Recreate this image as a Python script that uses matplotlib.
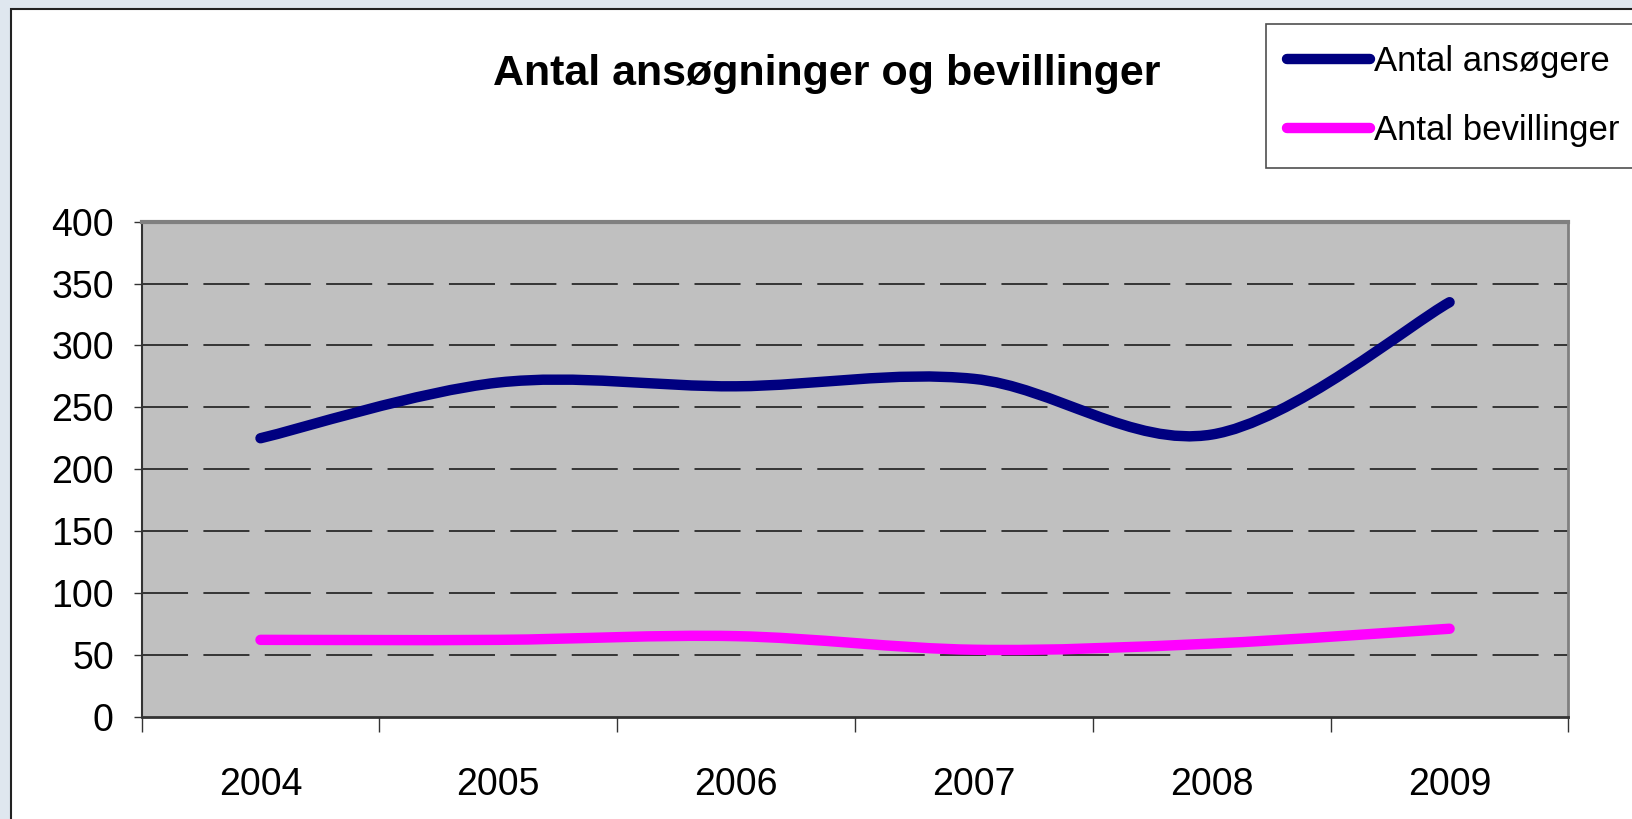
import numpy as np
import matplotlib.pyplot as plt
from matplotlib.path import Path
from matplotlib.patches import PathPatch, Rectangle
from matplotlib.lines import Line2D

years = ['2004', '2005', '2006', '2007', '2008', '2009']
ansogere = [225, 270, 267, 273, 228, 335]
bevillinger = [62, 62, 65, 54, 59, 71]

plt.rcParams['font.family'] = ['Liberation Sans', 'DejaVu Sans']


def smooth_path(xs, ys):
    # Excel-style smoothed line: cubic bezier through every point
    p = np.column_stack([xs, ys]).astype(float)
    n = len(p)
    verts = [p[0]]
    codes = [Path.MOVETO]
    for i in range(n - 1):
        prev = p[max(i - 1, 0)]
        nxt = p[min(i + 2, n - 1)]
        c1 = p[i] + (p[i + 1] - prev) / 6
        c2 = p[i + 1] - (nxt - p[i]) / 6
        verts += [c1, c2, p[i + 1]]
        codes += [Path.CURVE4] * 3
    return Path(verts, codes)


fig = plt.figure(figsize=(16.33, 8.19), dpi=100)
fig.patch.set_facecolor('#dfe7ef')
fig.patches.append(Rectangle((11 / 1633, -0.1), 1.2, 1 - 9 / 819 + 0.1,
                             transform=fig.transFigure, facecolor='white',
                             edgecolor='#222222', linewidth=1.5, zorder=0))

ax = fig.add_axes([0.0867, 0.1251, 0.9605 - 0.0867, 0.7292 - 0.1251])
ax.set_zorder(2)
ax.set_facecolor('#c0c0c0')

x = np.arange(len(years))
for vals, col in [(ansogere, '#000080'), (bevillinger, '#ff00ff')]:
    ax.add_patch(PathPatch(smooth_path(x, vals), facecolor='none', edgecolor=col,
                           linewidth=7.5, capstyle='round', joinstyle='round', zorder=3))

ax.set_xlim(-0.5, len(years) - 0.5)
ax.set_ylim(0, 400)
ax.set_yticks(range(0, 401, 50))
ax.tick_params(axis='y', length=6, width=1, pad=14, labelsize=27, color='#333333')

# category ticks between labels, labels centred on categories
ax.set_xticks(np.arange(-0.5, len(years), 1))
ax.set_xticklabels([])
ax.set_xticks(x, minor=True)
ax.set_xticklabels(years, minor=True)
ax.tick_params(axis='x', which='major', length=11, width=1, color='#333333')
ax.tick_params(axis='x', which='minor', length=0, pad=36, labelsize=27)

for yv in range(50, 400, 50):
    ax.axhline(yv, color='#2a2a2a', linewidth=1.3, dashes=(25.5, 8.5), zorder=1)

ax.spines['left'].set_color('#333333')
ax.spines['left'].set_linewidth(1.5)
ax.spines['bottom'].set_color('#333333')
ax.spines['bottom'].set_linewidth(2)
ax.spines['top'].set_color('#808080')
ax.spines['top'].set_linewidth(3)
ax.spines['right'].set_color('#808080')
ax.spines['right'].set_linewidth(2)

fig.text(827 / 1633, 1 - 74 / 819, 'Antal ansøgninger og bevillinger',
         ha='center', va='center', fontsize=31, fontweight='bold')

handles = [Line2D([], [], color='#000080', linewidth=7.5, solid_capstyle='round'),
           Line2D([], [], color='#ff00ff', linewidth=7.5, solid_capstyle='round')]
leg = fig.legend(handles, ['Antal ansøgere', 'Antal bevillinger'],
                 loc='upper left', bbox_to_anchor=(1266 / 1633, 1 - 24 / 819),
                 fontsize=25, frameon=True, fancybox=False, edgecolor='#222222',
                 handlelength=2.4, handletextpad=0.1, labelspacing=1.05,
                 borderpad=0.6, borderaxespad=0)
leg.get_frame().set_linewidth(1.2)

fig.savefig('out.png', dpi=100, facecolor=fig.get_facecolor())
